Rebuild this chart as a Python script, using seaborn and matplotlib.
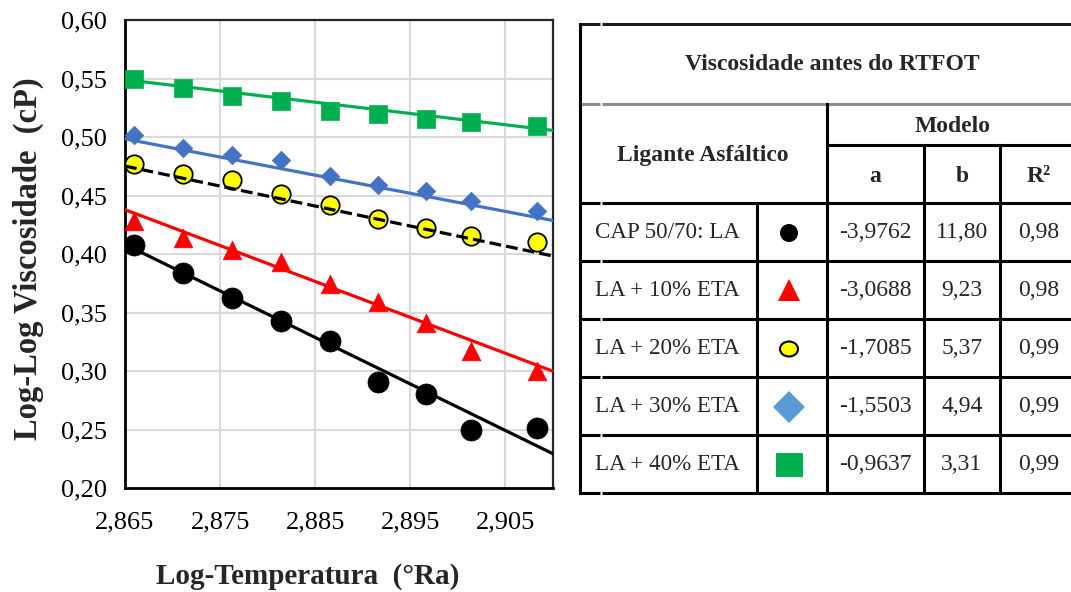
import numpy as np
import pandas as pd
import matplotlib
matplotlib.use("Agg")
import matplotlib.pyplot as plt
from matplotlib.patches import Circle, Ellipse, Polygon, Rectangle
import seaborn as sns

# ---- data -------------------------------------------------------------
log_temp = [2.8659, 2.8711, 2.8763, 2.8814, 2.8866, 2.8916, 2.8966, 2.9014, 2.9083]

visc_la = [0.408, 0.384, 0.362, 0.343, 0.326, 0.291, 0.280, 0.250, 0.251]
visc_eta10 = [0.428, 0.414, 0.403, 0.393, 0.374, 0.359, 0.341, 0.317, 0.300]
visc_eta20 = [0.477, 0.468, 0.463, 0.451, 0.442, 0.430, 0.422, 0.415, 0.410]
visc_eta30 = [0.502, 0.491, 0.485, 0.480, 0.467, 0.459, 0.454, 0.445, 0.437]
visc_eta40 = [0.550, 0.542, 0.535, 0.531, 0.522, 0.520, 0.515, 0.513, 0.509]

binder_names = ["CAP 50/70: LA", "LA + 10% ETA", "LA + 20% ETA", "LA + 30% ETA", "LA + 40% ETA"]
coef_a = [-3.9762, -3.0688, -1.7085, -1.5503, -0.9637]
coef_b = [11.80, 9.23, 5.37, 4.94, 3.31]
r_squared = [0.98, 0.98, 0.99, 0.99, 0.99]

x_ticks = [2.865, 2.875, 2.885, 2.895, 2.905]
y_ticks = [0.20, 0.25, 0.30, 0.35, 0.40, 0.45, 0.50, 0.55, 0.60]

# ---- style ------------------------------------------------------------
sns.set_style("white")
plt.rcParams["font.family"] = ["Liberation Serif", "DejaVu Serif"]

fig = plt.figure(figsize=(10.71, 5.92), dpi=100)
W, H = 1071, 592
ax = fig.add_axes([125 / W, 1 - 488 / H, 428 / W, 468 / H])

series = [
    dict(y=visc_la, marker="o", face="#000000", edge="#000000", s=230, ew=0.5,
         line="#000000", ls="-"),
    dict(y=visc_eta10, marker="^", face="#FF0000", edge="#FF0000", s=180, ew=0.5,
         line="#FF0000", ls="-"),
    dict(y=visc_eta20, marker="o", face="#FFFF00", edge="#000000", s=175, ew=1.3,
         line="#000000", ls="--"),
    dict(y=visc_eta30, marker="D", face="#4472C4", edge="#4472C4", s=90, ew=0.5,
         line="#4472C4", ls="-"),
    dict(y=visc_eta40, marker="s", face="#00B050", edge="#00B050", s=165, ew=0.5,
         line="#00B050", ls="-"),
]

x_line = np.array([2.865, 2.91])
for i, spec in enumerate(series):
    df = pd.DataFrame({"x": log_temp, "y": spec["y"]})
    sns.scatterplot(data=df, x="x", y="y", ax=ax, marker=spec["marker"],
                    color=spec["face"], edgecolor=spec["edge"], linewidth=spec["ew"],
                    s=spec["s"], zorder=3, legend=False)
    fit = pd.DataFrame({"x": x_line, "y": coef_a[i] * x_line + coef_b[i]})
    sns.lineplot(data=fit, x="x", y="y", ax=ax, color=spec["line"],
                 linewidth=2.3, linestyle=spec["ls"], zorder=4, legend=False)

ax.set_xlim(2.865, 2.91)
ax.set_ylim(0.20, 0.60)
ax.set_xticks(x_ticks)
ax.set_yticks(y_ticks)
ax.set_xticklabels([f"{v:.3f}".replace(".", ",") for v in x_ticks])
ax.set_yticklabels([f"{v:.2f}".replace(".", ",") for v in y_ticks])
ax.tick_params(axis="both", labelsize=19, direction="out", length=6, width=1.5,
               colors="#000000", pad=7)
ax.tick_params(axis="x", pad=11)
ax.grid(True, color="#D9D9D9", linewidth=1.5, zorder=0)
ax.set_axisbelow(True)
for side in ["left", "bottom"]:
    ax.spines[side].set_color("#000000")
    ax.spines[side].set_linewidth(2.0)
for side in ["top", "right"]:
    ax.spines[side].set_color("#262626")
    ax.spines[side].set_linewidth(1.6)

ax.set_xlabel("Log-Temperatura  (°Ra)", fontsize=21, fontweight="bold", va="center")
ax.set_ylabel("Log-Log Viscosidade  (cP)", fontsize=23.5, fontweight="bold", va="center")
ax.xaxis.set_label_coords((308 - 125) / 428, (488 - 577) / 468)
ax.yaxis.set_label_coords((28 - 125) / 428, (488 - 259) / 468)

# ---- coefficient table (drawn in pixel space) -----------------------------
tb = fig.add_axes([0, 0, 1, 1], facecolor="none")
tb.set_xlim(0, W)
tb.set_ylim(H, 0)
tb.axis("off")

x_left, x_gap, x_right = 580, 601, 1080
col_name, col_mark, col_a, col_b = 757, 827, 924, 1000
row_top, row_title, row_model, row_head = 24, 104, 145, 203
row_h = 58
rows = [row_head + k * row_h for k in range(6)]
lw = 2.2


def hline(y, x0, x1, color="#000000", width=lw):
    # horizontal rule with the small notch near the left border
    if x0 <= x_left:
        tb.plot([x0, x_gap - 1], [y, y], color=color, lw=width, solid_capstyle="butt")
        tb.plot([x_gap + 1, x1], [y, y], color=color, lw=width, solid_capstyle="butt")
    else:
        tb.plot([x0, x1], [y, y], color=color, lw=width, solid_capstyle="butt")


def vline(x, y0, y1):
    tb.plot([x, x], [y0, y1], color="#000000", lw=lw, solid_capstyle="projecting")


hline(row_top, x_left, x_right, color="#1a1a1a")
hline(row_title, x_left, x_right, color="#8c8c8c")
hline(row_model, col_mark, x_right)
for y in rows:
    hline(y, x_left, x_right)
vline(x_left, row_top, rows[-1])
vline(col_mark, row_title, rows[-1])
vline(col_name, rows[0], rows[-1])
vline(col_a, row_model, rows[-1])
vline(col_b, row_model, rows[-1])

hdr = dict(ha="center", va="center", fontweight="bold")
tb.text(832, 65, "Viscosidade antes do RTFOT", fontsize=17, **hdr)
tb.text(703, 156, "Ligante Asfáltico", fontsize=17, **hdr)
tb.text(953, 126, "Modelo", fontsize=17, **hdr)
tb.text(875, 176, "a", fontsize=17, **hdr)
tb.text(962, 176, "b", fontsize=17, **hdr)
tb.text(1039, 176, "R²", fontsize=17, **hdr)

cell = dict(ha="center", va="center", fontsize=17)
for k in range(5):
    yc = rows[k] + row_h / 2 + 1
    tb.text(595, yc, binder_names[k], ha="left", va="center", fontsize=16.6)
    tb.text(875, yc, f"{coef_a[k]:.4f}".replace(".", ","), **cell)
    tb.text(962, yc, f"{coef_b[k]:.2f}".replace(".", ","), **cell)
    tb.text(1039, yc, f"{r_squared[k]:.2f}".replace(".", ","), **cell)

# legend symbols in the table
mx = 789
y0 = [rows[k] + row_h / 2 + 1 for k in range(5)]
tb.add_patch(Circle((mx, y0[0]), 9, facecolor="#000000", edgecolor="none"))
tb.add_patch(Polygon([[mx - 11, y0[1] + 10], [mx + 11, y0[1] + 10], [mx, y0[1] - 12]],
                     closed=True, facecolor="#FF0000", edgecolor="none"))
tb.add_patch(Ellipse((mx, y0[2]), 18, 15, facecolor="#FFFF00", edgecolor="#000000", lw=1.5))
tb.add_patch(Polygon([[mx - 16, y0[3]], [mx, y0[3] - 16], [mx + 16, y0[3]], [mx, y0[3] + 16]],
                     closed=True, facecolor="#5B9BD5", edgecolor="none"))
tb.add_patch(Rectangle((mx - 13, y0[4] - 12), 27, 24, facecolor="#00B050", edgecolor="none"))

fig.savefig("out.png", dpi=100)
